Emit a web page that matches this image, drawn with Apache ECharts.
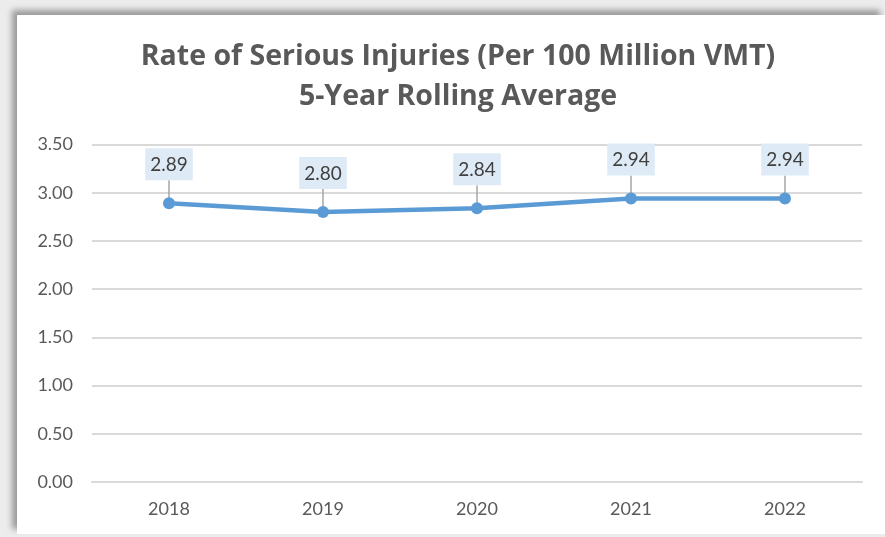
<!DOCTYPE html>
<html>
<head>
<meta charset="utf-8">
<script src="https://cdn.jsdelivr.net/npm/echarts@6/dist/echarts.min.js"></script>
<style>
  html, body { margin: 0; padding: 0; width: 885px; height: 537px; overflow: hidden; background: #fff; }
  #frame { position: absolute; left: 0; top: 0; width: 885px; height: 537px; background: #ececec; }
  #paper { position: absolute; left: 17px; top: 15px; width: 868px; height: 519px; background: #fff;
           box-shadow: -5px -5px 6px rgba(0,0,0,0.35); }
  #chart { position: absolute; left: 0; top: 0; width: 885px; height: 537px; }
</style>
</head>
<body>
<div id="frame"></div>
<div id="paper"></div>
<div id="chart"></div>
<script>
// Five-year rolling average, serious injuries per 100 million VMT
const years = ['2018', '2019', '2020', '2021', '2022'];
const rates = [2.89, 2.80, 2.84, 2.94, 2.94];
const yTicks = [0, 0.5, 1.0, 1.5, 2.0, 2.5, 3.0, 3.5];

const FONT = 'Lato, "Open Sans", sans-serif';
const TITLE_FONT = '"Open Sans", Lato, sans-serif';
const GREY = '#595959';
const LABEL_GAP = 17;      // space between marker top and value box
const MARKER = 12;

const chart = echarts.init(document.getElementById('chart'), null, { renderer: 'canvas' });

chart.setOption({
  backgroundColor: 'transparent',
  animation: false,
  title: {
    text: 'Rate of Serious Injuries (Per 100 Million VMT)\n5-Year Rolling Average',
    left: 453,
    textAlign: 'center',
    top: 32,
    textStyle: {
      fontFamily: TITLE_FONT,
      fontWeight: 'bold',
      fontSize: 28.5,
      lineHeight: 40,
      color: GREY
    }
  },
  grid: { left: 92, right: 23, top: 144.5, bottom: 55 },
  xAxis: {
    type: 'category',
    data: years,
    boundaryGap: true,
    axisTick: { show: false },
    axisLine: { lineStyle: { color: '#d9d9d9', width: 2 } },
    axisLabel: { color: GREY, fontFamily: FONT, fontSize: 18, margin: 18 }
  },
  yAxis: {
    type: 'value',
    min: yTicks[0],
    max: yTicks[yTicks.length - 1],
    interval: 0.5,
    axisLine: { show: false },
    axisTick: { show: false },
    splitLine: { lineStyle: { color: '#d9d9d9', width: 2 } },
    axisLabel: {
      color: GREY, fontFamily: FONT, fontSize: 18, margin: 19,
      formatter: v => v.toFixed(2)
    }
  },
  series: [
    {
      // leader lines from each marker up to its value box
      type: 'custom',
      z: 1,
      silent: true,
      data: rates.map((v, i) => [i, v]),
      renderItem: (params, api) => {
        const p = api.coord([api.value(0), api.value(1)]);
        return {
          type: 'line',
          shape: { x1: p[0], y1: p[1], x2: p[0], y2: p[1] - MARKER / 2 - LABEL_GAP },
          style: { stroke: '#a6a6a6', lineWidth: 1.5 }
        };
      }
    },
    {
      type: 'line',
      z: 2,
      data: rates,
      symbol: 'circle',
      symbolSize: MARKER,
      lineStyle: { color: '#5b9bd5', width: 4.5 },
      itemStyle: { color: '#5b9bd5' },
      label: {
        show: true,
        position: 'top',
        distance: LABEL_GAP,
        formatter: p => p.value.toFixed(2),
        fontFamily: FONT,
        fontSize: 19,
        color: '#404040',
        backgroundColor: '#deebf7',
        padding: [7, 5, 6, 5]
      }
    }
  ]
});
</script>
</body>
</html>
